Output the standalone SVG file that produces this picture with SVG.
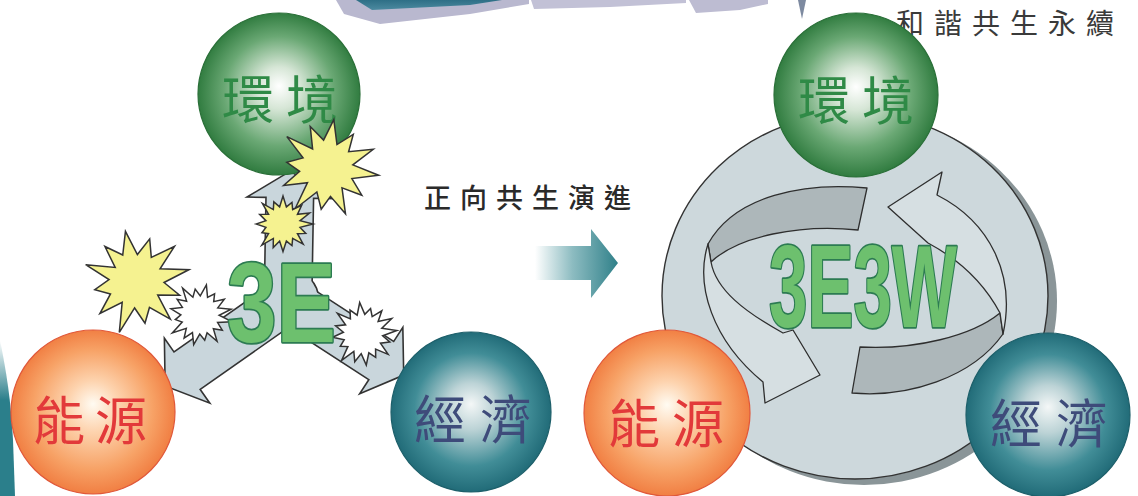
<svg xmlns="http://www.w3.org/2000/svg" xmlns:xlink="http://www.w3.org/1999/xlink" width="1138" height="496" viewBox="0 0 1138 496">
  <style>
    .cjk { font-family: "Noto Sans CJK TC", "Noto Sans CJK SC", sans-serif; }
    .label { font-size: 52px; }
    .env { fill: #2f8a46; }
    .energy { fill: #e2393a; }
    .econ { fill: #3e4b7a; }
    .caption { font-size: 27px; fill: #2a2a2a; font-weight: 500; }
    .ball { stroke-width: 1.2; }
    .star { stroke: #333; stroke-width: 1.5; stroke-linejoin: miter; }
    .yellow { fill: #f5f290; }
    .white { fill: #ffffff; }
    .arm-outline { fill: #333; stroke: #333; stroke-width: 3.2; stroke-linejoin: miter; }
    .arm-fill { fill: #c9d6dc; stroke: none; }
    .logo { font-family: "Liberation Sans", Arial, sans-serif; font-weight: bold; fill: #6dc06e; stroke: #2c7b52; stroke-width: 3.5; stroke-linejoin: round; paint-order: stroke; }
    .ribbon-back { fill: #adb7ba; stroke: #2e2e2e; stroke-width: 1.3; stroke-linejoin: round; }
    .ribbon-front { fill: #d6dfe2; stroke: #2e2e2e; stroke-width: 1.3; stroke-linejoin: round; }
  </style>
  <defs>
    <radialGradient id="gGreen" cx="0.5" cy="0.5" r="0.52" fx="0.5" fy="0.45">
      <stop offset="0" stop-color="#ffffff"/>
      <stop offset="0.25" stop-color="#d6e6d6"/>
      <stop offset="0.65" stop-color="#6aa874"/>
      <stop offset="1" stop-color="#2a773a"/>
    </radialGradient>
    <radialGradient id="gOrange" cx="0.5" cy="0.5" r="0.52" fx="0.5" fy="0.45">
      <stop offset="0" stop-color="#fffbf2"/>
      <stop offset="0.3" stop-color="#fdd3ae"/>
      <stop offset="0.7" stop-color="#f7a266"/>
      <stop offset="1" stop-color="#f07a3e"/>
    </radialGradient>
    <radialGradient id="gTeal" cx="0.5" cy="0.5" r="0.52" fx="0.5" fy="0.45">
      <stop offset="0" stop-color="#f4f7f7"/>
      <stop offset="0.28" stop-color="#bcd3d6"/>
      <stop offset="0.68" stop-color="#418d97"/>
      <stop offset="1" stop-color="#1d6774"/>
    </radialGradient>
    <linearGradient id="gArrow" x1="535" y1="0" x2="618" y2="0" gradientUnits="userSpaceOnUse">
      <stop offset="0" stop-color="#ffffff"/>
      <stop offset="0.45" stop-color="#8dbcc1"/>
      <stop offset="1" stop-color="#2f8089"/>
    </linearGradient>
    <linearGradient id="gBand" x1="0" y1="0" x2="0" y2="1">
      <stop offset="0" stop-color="#2e6f86"/>
      <stop offset="1" stop-color="#4c8aa0"/>
    </linearGradient>
    <linearGradient id="gStripe" x1="0" y1="340" x2="0" y2="400" gradientUnits="userSpaceOnUse">
      <stop offset="0" stop-color="#2b7f8b" stop-opacity="0"/>
      <stop offset="1" stop-color="#2b7f8b"/>
    </linearGradient>
    <!-- twelve-spike burst, unit radius 100 -->
    <polygon id="burst12" points="100,0 50.2,13.5 73.6,42.5 33.9,33.9 47.5,82.3 14.2,53.1 0,80 -12.9,48.3 -50,86.6 -33.2,33.2 -77.9,45 -51.2,13.7 -78,0 -48.3,-12.9 -84.9,-49 -32.5,-32.5 -43,-74.5 -14,-52.2 0,-94 12.7,-47.3 41,-71 36.8,-36.8 83.1,-48 48.3,-12.9"/>
    <!-- sixteen-spike burst, unit radius 100 -->
    <polygon id="burst16" points="100,0 56.9,11.3 75.8,31.4 48.2,32.2 67.2,67.2 32.2,48.2 29.9,72.1 11.3,56.9 0,92 -11.3,56.9 -32.6,78.5 -32.2,48.2 -70.7,70.7 -48.2,32.2 -70.2,29.1 -56.9,11.3 -90,0 -56.9,-11.3 -77.6,-32.1 -48.2,-32.2 -68.6,-68.6 -32.2,-48.2 -30.6,-73.9 -11.3,-56.9 0,-93 11.3,-56.9 29.9,-72.1 32.2,-48.2 62.2,-62.2 48.2,-32.2 88.7,-36.7 56.9,-11.3"/>
    <!-- three arrows radiating from the 3E hub -->
    <g id="tri">
      <path d="M0,-23 H103 V-40 L128,0 L103,40 V23 H0 Z" transform="translate(288,300) rotate(-89)"/>
      <path d="M0,-22 H124 V-37 L149,0 L124,37 V22 H0 Z" transform="translate(288,300) rotate(145)"/>
      <path d="M0,-22 H112 V-37 L137,0 L112,37 V22 H0 Z" transform="translate(288,300) rotate(33)"/>
      <circle cx="288" cy="300" r="30"/>
    </g>
  </defs>

  <rect width="1138" height="496" fill="#ffffff"/>

  <!-- cropped banner pieces along the top edge -->
  <g id="banner">
    <polygon points="336,0 344,14 380,24 470,14 529,4 529,0" fill="#b9b8cf"/>
    <polygon points="356,0 372,10 470,5 502,0" fill="url(#gBand)"/>
    <polygon points="531,0 534,9 610,7 686,3 686,0" fill="#c2c1d6"/>
    <polygon points="689,0 696,13 740,10 768,4 768,0" fill="#bdbcd2"/>
    <polygon points="798,0 802,19 806,0" fill="#7d8aa0"/>
  </g>

  <!-- edge stripe at lower left -->
  <path d="M0,340 C6,370 11,400 13,440 L15,496 L0,496 Z" fill="url(#gStripe)"/>

  <!-- heading at top right -->
  <text class="cjk" x="896 934 972 1010 1048 1086" y="34" font-size="28" fill="#3a3a3a">和諧共生永續</text>

  <!-- ===== left: 3E in conflict ===== -->
  <g id="tri-arrows">
    <use href="#tri" class="arm-outline"/>
    <use href="#tri" class="arm-fill"/>
  </g>

  <g id="env-left">
    <circle class="ball" cx="279" cy="94" r="81" fill="url(#gGreen)" stroke="#2a6f38"/>
    <text class="cjk label env" x="222 286" y="119">環境</text>
  </g>
  <g id="energy-left">
    <circle class="ball" cx="93" cy="412" r="82" fill="url(#gOrange)" stroke="#e0583a"/>
    <text class="cjk label energy" x="33 95" y="440">能源</text>
  </g>
  <g id="econ-left">
    <circle class="ball" cx="471" cy="412" r="80" fill="url(#gTeal)" stroke="#1d5f6a"/>
    <text class="cjk label econ" x="414 480" y="439">經濟</text>
  </g>

  <g id="bursts">
    <use href="#burst12" class="star yellow" transform="translate(327,168) rotate(8) scale(0.52)" style="stroke-width:2.9"/>
    <use href="#burst16" class="star yellow" transform="translate(283,224) scale(0.3)" style="stroke-width:5"/>
    <use href="#burst12" class="star yellow" transform="translate(136,281) rotate(-12) scale(0.54)" style="stroke-width:2.8"/>
    <use href="#burst16" class="star white" transform="translate(200,315) rotate(12) scale(0.33)" style="stroke-width:4.5"/>
    <use href="#burst16" class="star white" transform="translate(363,334) rotate(-6) scale(0.34)" style="stroke-width:4.5"/>
  </g>

  <text class="logo" x="227" y="342" font-size="114" textLength="109" lengthAdjust="spacingAndGlyphs">3E</text>

  <!-- ===== middle: transition ===== -->
  <text class="cjk caption" x="424 460 496 532 568 604" y="208">正向共生演進</text>
  <path id="forward-arrow" d="M535,246 H591 V229 L618,263 L591,298 V280 H535 Z" fill="url(#gArrow)"/>

  <!-- ===== right: 3E3W cycle ===== -->
  <g id="cycle-disk">
    <ellipse cx="864" cy="301" rx="193" ry="184" fill="#8a9598"/>
    <ellipse cx="855" cy="296" rx="193" ry="183" fill="#cdd8dc" stroke="#333" stroke-width="1.4"/>
  </g>

  <g id="cycle-arrows">
    <path class="ribbon-back" d="M867,188 C805,182 735,195 708,244 L711,262 C738,236 800,224 858,230 Z"/>
    <path class="ribbon-front" d="M708,244 C695,285 712,340 763,382 L765,403 L820,375 L793,330 L783,333 C745,312 716,290 711,262 Z"/>
    <path class="ribbon-back" d="M860,347 L852,393 C907,398 972,378 1003,334 L1000,313 C972,336 915,350 860,347 Z"/>
    <path class="ribbon-front" d="M1000,313 C985,285 960,260 928,243 L888,207 L942,172 L937,195 C990,222 1016,275 1003,334 Z"/>
  </g>

  <text class="logo" x="769" y="327" font-size="116" textLength="188" lengthAdjust="spacingAndGlyphs">3E3W</text>

  <g id="env-right">
    <circle class="ball" cx="856" cy="95" r="82" fill="url(#gGreen)" stroke="#2a6f38"/>
    <text class="cjk label env" x="798 862" y="120">環境</text>
  </g>
  <g id="energy-right">
    <circle class="ball" cx="667" cy="413" r="83" fill="url(#gOrange)" stroke="#e0583a"/>
    <text class="cjk label energy" x="608 672" y="443">能源</text>
  </g>
  <g id="econ-right">
    <circle class="ball" cx="1048" cy="415" r="82" fill="url(#gTeal)" stroke="#1d5f6a"/>
    <text class="cjk label econ" x="990 1056" y="443">經濟</text>
  </g>
</svg>
